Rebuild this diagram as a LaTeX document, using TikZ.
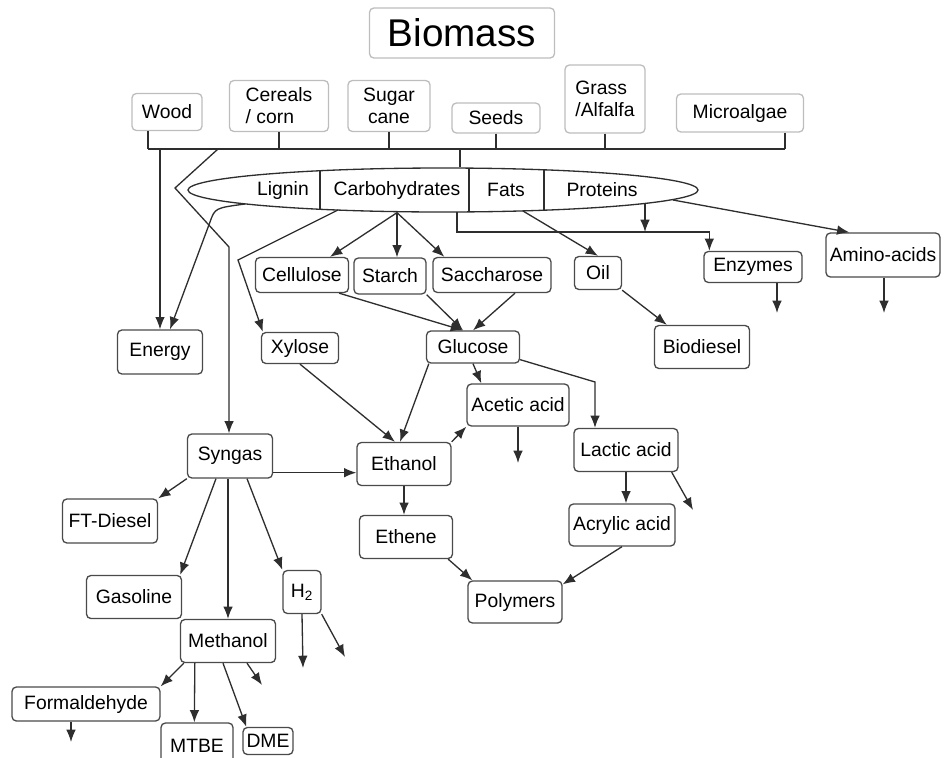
\documentclass[tikz,border=0pt]{standalone}
\usepackage{fontspec}
\setmainfont{Liberation Sans}
\usetikzlibrary{arrows.meta,calc,shapes.geometric}
\definecolor{boxgray}{HTML}{4A4A4A}
\definecolor{srcgray}{HTML}{BDBDBD}
\definecolor{linegray}{HTML}{2E2E2E}
\tikzset{
  box/.style={draw=boxgray,rounded corners=2.5pt,line width=0.75pt,inner sep=0pt,align=center,font=\fontsize{11}{12.5}\selectfont},
  src/.style={box,draw=srcgray},
  wh/.style 2 args={minimum width=#1*0.2mm,minimum height=#2*0.2mm},
  link/.style={draw=linegray,line width=0.75pt},
  arr/.style={link,-{Latex[length=7pt,width=5.5pt]}},
  lbl/.style={inner sep=1pt,font=\fontsize{11}{12.5}\selectfont}}

\begin{document}
\begin{tikzpicture}[x=0.2mm,y=-0.2mm]
            \useasboundingbox (0,0) rectangle (945,757);
            \clip (0,0) rectangle (945,757);
            % Title and sources
            \node[src,wh={185}{50},font=\fontsize{22}{24}\selectfont] (biomass) at (462,33) {Biomass};
            \node[src,wh={70}{37}] (wood) at (167,112) {Wood};
            \node[src,wh={99}{51},align=left] (cereals) at (279,106) {Cereals\\/ corn};
            \node[src,wh={82}{51}] (sugar) at (389,106) {Sugar\\cane};
            \node[src,wh={88}{30}] (seeds) at (496,118) {Seeds};
            \node[src,wh={80}{68},align=left] (grass) at (605,99) {Grass\\/Alfalfa};
            \node[src,wh={127}{38}] (micro) at (740,113) {Microalgae};
            % Composition
            \node[ellipse,draw=linegray,line width=0.75pt,inner sep=0pt,minimum width=102mm,minimum height=8.8mm] (comp) at (443,190) {};
            \begin{scope}
              \clip (comp.center) ellipse [x radius=51mm,y radius=4.4mm];
              \foreach \dx in {320,469,544}
                \draw[link] (\dx,160) -- (\dx,220);
            \end{scope}
            \node[lbl] (lignin) at (283,190) {Lignin};
            \node[lbl] (carbo) at (397,190) {Carbohydrates};
            \node[lbl] (fats) at (506,190) {Fats};
            \node[lbl] (proteins) at (602,190) {Proteins};
            % Products
            \node[box,wh={85}{44}] (energy) at (160,352) {Energy};
            \node[box,wh={93}{35}] (cellulose) at (302,275) {Cellulose};
            \node[box,wh={72}{36}] (starch) at (390,276) {Starch};
            \node[box,wh={118}{35}] (saccharose) at (492,275) {Saccharose};
            \node[box,wh={47}{33}] (oil) at (598,273) {Oil};
            \node[box,wh={98}{31}] (enzymes) at (753,267) {Enzymes};
            \node[box,wh={114}{44}] (amino) at (883,255) {Amino-acids};
            \node[box,wh={77}{31}] (xylose) at (300,348) {Xylose};
            \node[box,wh={93}{32}] (glucose) at (473,347) {Glucose};
            \node[box,wh={95}{43}] (biodiesel) at (702,347) {Biodiesel};
            \node[box,wh={102}{42}] (acetic) at (518,405) {Acetic acid};
            \node[box,wh={104}{43}] (lactic) at (626,450) {Lactic acid};
            \node[box,wh={85}{44}] (syngas) at (230,456) {Syngas};
            \node[box,wh={94}{43}] (ethanol) at (404,464) {Ethanol};
            \node[box,wh={95}{44}] (ftdiesel) at (110,521) {FT-Diesel};
            \node[box,wh={93}{43}] (ethene) at (406,537) {Ethene};
            \node[box,wh={106}{42}] (acrylic) at (622,525) {Acrylic acid};
            \node[box,wh={94}{42}] (polymers) at (515,602) {Polymers};
            \node[box,wh={95}{43}] (gasoline) at (134,597) {Gasoline};
            \node[box,wh={38}{43}] (h2) at (302,592) {H\textsubscript{2}};
            \node[box,wh={95}{43}] (methanol) at (228,641) {Methanol};
            \node[box,wh={148}{34}] (formaldehyde) at (86,704) {Formaldehyde};
            \node[box,wh={72}{46}] (mtbe) at (197,746) {MTBE};
            \node[box,wh={50}{27}] (dme) at (268,741) {DME};
            % Collecting line
            \coordinate (busL) at (148,149);
            \coordinate (busR) at (785,149);
            \coordinate (busC) at (460,149);
            \draw[link] (busL) -- (busR);
            \draw[link] (wood.south -| busL) -- (busL);
            \draw[link] (micro.south -| busR) -- (busR);
            \foreach \n in {cereals,sugar,seeds,grass}
              \draw[link] (\n.south) -- (\n.south |- busL);
            \draw[link] (busC) -- (busC |- comp.north);
            \draw[arr] (energy.north |- busL) -- (energy.north);
            \coordinate (v1) at (218,149);
            \coordinate (v2) at (175,188);
            \coordinate (v3) at (229,247);
            \draw[arr] (v1) -- (v2) -- (v3) -- (v3 |- syngas.north);
            % Points on the ellipse
            \coordinate (eLg) at (245,204);
            \coordinate (eCx) at (338,210);
            \coordinate (eCb) at (carbo.center |- comp.south);
            \coordinate (eFd) at (457,212);
            \coordinate (eFo) at (523,211);
            \coordinate (ePd) at (645,204);
            \coordinate (ePa) at (673,200);
            % Lignin and carbohydrates
            \draw[arr] (eLg) .. controls (215,208) .. (210,222) -- ($(energy.north)+(10,0)$);
            \coordinate (xb) at (238,260);
            \draw[arr] (eCx) -- (xb) -- ($(xylose.north west)+(2,0)$);
            \draw[arr] (eCb) -- ($(cellulose.north)+(28,0)$);
            \draw[arr] (eCb) -- (eCb |- starch.north);
            \draw[arr] (eCb) -- ($(saccharose.north west)+(12,0)$);
            \draw[arr] ($(cellulose.south east)+(-10,0)$) -- ($(glucose.north)+(-10,0)$);
            \draw[arr] (starch.south east) -- ($(glucose.north)+(-10,0)$);
            \draw[arr] ($(saccharose.south)+(23,0)$) -- (glucose.north);
            % Fats and proteins
            \coordinate (fd) at (457,232);
            \draw[arr] (eFd) -- (fd) -| ($(enzymes.north west)+(6,0)$);
            \draw[arr] (ePd) -- (ePd |- fd);
            \draw[arr] (eFo) -- (oil.north);
            \draw[arr] (oil.south east) -- ($(biodiesel.north west)+(13,0)$);
            \draw[arr] (ePa) -- ($(amino.north west)+(24,0)$);
            \coordinate (enzOut) at (777,313);
            \coordinate (amOut) at (884,313);
            \draw[arr] (enzOut |- enzymes.south) -- (enzOut);
            \draw[arr] (amOut |- amino.south) -- (amOut);
            % Sugars
            \draw[arr] (glucose.south) -- ($(acetic.north west)+(15,0)$);
            \coordinate (gl) at (595,382);
            \draw[arr] ($(glucose.south east)+(0,-4)$) -- (gl) -- (gl |- lactic.north);
            \draw[arr] ($(glucose.south west)+(3,0)$) -- ($(ethanol.north)+(-4,0)$);
            \draw[arr] (xylose.south) -- ($(ethanol.north)+(-9,0)$);
            \coordinate (sy) at ($(syngas.south east)+(0,-6)$);
            \draw[arr] (sy) -- (sy -| ethanol.west);
            \draw[arr] (ethanol.north east) -- (acetic.south west);
            \coordinate (acOut) at (518,463);
            \draw[arr] (acetic.south) -- (acOut);
            \draw[arr] (ethanol.south) -- (ethanol.south |- ethene.north);
            \draw[arr] (lactic.south) -- (lactic.south |- acrylic.north);
            \coordinate (laOut) at (693,510);
            \draw[arr] ($(lactic.south east)+(-7,0)$) -- (laOut);
            \draw[arr] ($(ethene.south east)+(-5,0)$) -- ($(polymers.north west)+(5,0)$);
            \draw[arr] (acrylic.south) -- ($(polymers.north east)+(0,4)$);
            % Syngas
            \draw[arr] (syngas.south west) -- (ftdiesel.north east);
            \draw[arr] ($(syngas.south)+(-14,0)$) -- ($(gasoline.north east)+(-2,0)$);
            \draw[arr] (syngas.south -| methanol.north) -- (methanol.north);
            \draw[arr] ($(syngas.south)+(17,0)$) -- (h2.north west);
            \coordinate (h2a) at (303,668);
            \coordinate (h2b) at (345,657);
            \draw[arr] (h2.south) -- (h2a);
            \draw[arr] (h2.south east) -- (h2b);
            % Methanol
            \draw[arr] ($(methanol.south west)+(4,0)$) -- (formaldehyde.north east);
            \draw[arr] ($(methanol.south west)+(15,0)$) -- ($(mtbe.north west)+(34,0)$);
            \draw[arr] ($(methanol.south)+(-5,0)$) -- ($(dme.north west)+(4,0)$);
            \coordinate (meOut) at (262,685);
            \draw[arr] ($(methanol.south)+(19,0)$) -- (meOut);
            \coordinate (foOut) at (71,742);
            \draw[arr] (foOut |- formaldehyde.south) -- (foOut);
\end{tikzpicture}
\end{document}
